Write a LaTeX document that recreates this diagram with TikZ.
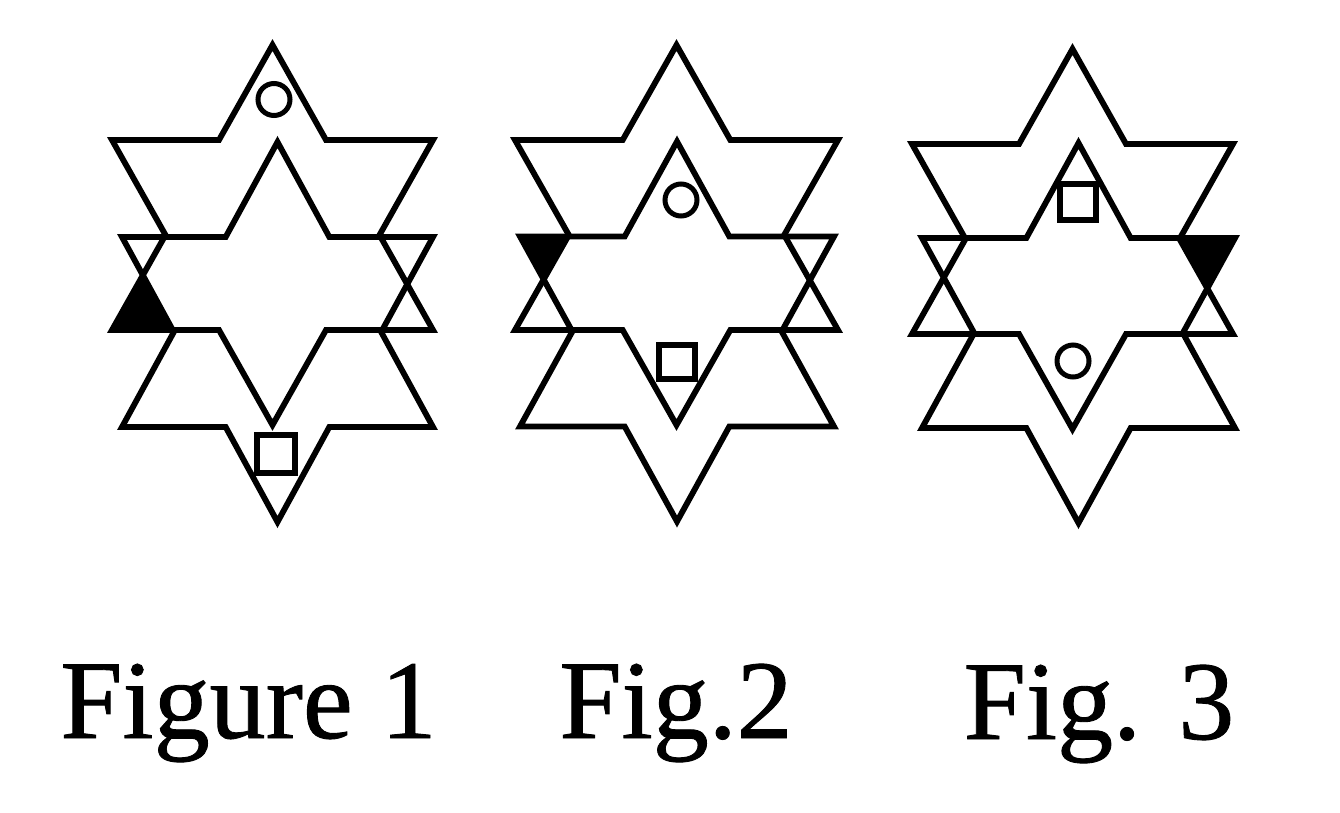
\documentclass[tikz,border=0pt]{standalone}
\usepackage{fontspec}
\setmainfont{Liberation Serif}
\newfontfamily\capfont[FakeBold=0.8]{Liberation Serif}
\usetikzlibrary{calc}
% outline of one hexagram: name, cx, cy, half side, third of height
\newcommand{\hexstar}[5]{%
  \draw[starline] (#2,#3-2*#5) coordinate (#1-1)
    -- (#2+#4/3,#3-#5) coordinate (#1-2)
    -- (#2+#4,#3-#5) coordinate (#1-3)
    -- (#2+2*#4/3,#3) coordinate (#1-4)
    -- (#2+#4,#3+#5) coordinate (#1-5)
    -- (#2+#4/3,#3+#5) coordinate (#1-6)
    -- (#2,#3+2*#5) coordinate (#1-7)
    -- (#2-#4/3,#3+#5) coordinate (#1-8)
    -- (#2-#4,#3+#5) coordinate (#1-9)
    -- (#2-2*#4/3,#3) coordinate (#1-10)
    -- (#2-#4,#3-#5) coordinate (#1-11)
    -- (#2-#4/3,#3-#5) coordinate (#1-12)
    -- cycle;}

\begin{document}
\begin{tikzpicture}[
    x=1pt, y=-1pt,
    starline/.style={line width=5.8pt, line join=miter},
    ringline/.style={line width=5pt},
    boxline/.style={line width=6.5pt},
    caption/.style={font=\capfont\fontsize{112}{112}\selectfont, anchor=base, inner sep=0pt}
]
    \useasboundingbox (0,0) rectangle (1340,812);

    % Figure 1
    \hexstar{a}{272.5}{235}{160.5}{95}
    \hexstar{b}{277.5}{332}{155.5}{95}
    \fill (a-9) -- (b-10) -- (intersection of a-10--a-9 and b-11--b-10) -- cycle;
    \draw[ringline] (274,99.5) circle[radius=16pt];
    \draw[boxline] (257,435) rectangle (295,473);

    % Fig.2
    \hexstar{c}{676.5}{235}{161.5}{95}
    \hexstar{d}{677}{331.5}{157}{95}
    \fill (d-11) -- (c-10) -- (intersection of c-10--c-9 and d-11--d-10) -- cycle;
    \draw[ringline] (681,200) circle[radius=16pt];
    \draw[boxline] (659,345) rectangle (695,379);

    % Fig. 3
    \hexstar{e}{1072.5}{239}{160.5}{95}
    \hexstar{f}{1078.5}{333}{156.5}{95}
    \fill (f-3) -- (e-4) -- (intersection of e-4--e-5 and f-3--f-4) -- cycle;
    \draw[boxline] (1060,184) rectangle (1096,220);
    \draw[ringline] (1073,361) circle[radius=16pt];

    \node[caption] (cap1) at (248.5,738) {Figure 1};
    \node[caption] (cap2) at (676,738) {Fig.2};
    \node[caption] (cap3) at (1099,739) {Fig. 3};
\end{tikzpicture}
\end{document}
